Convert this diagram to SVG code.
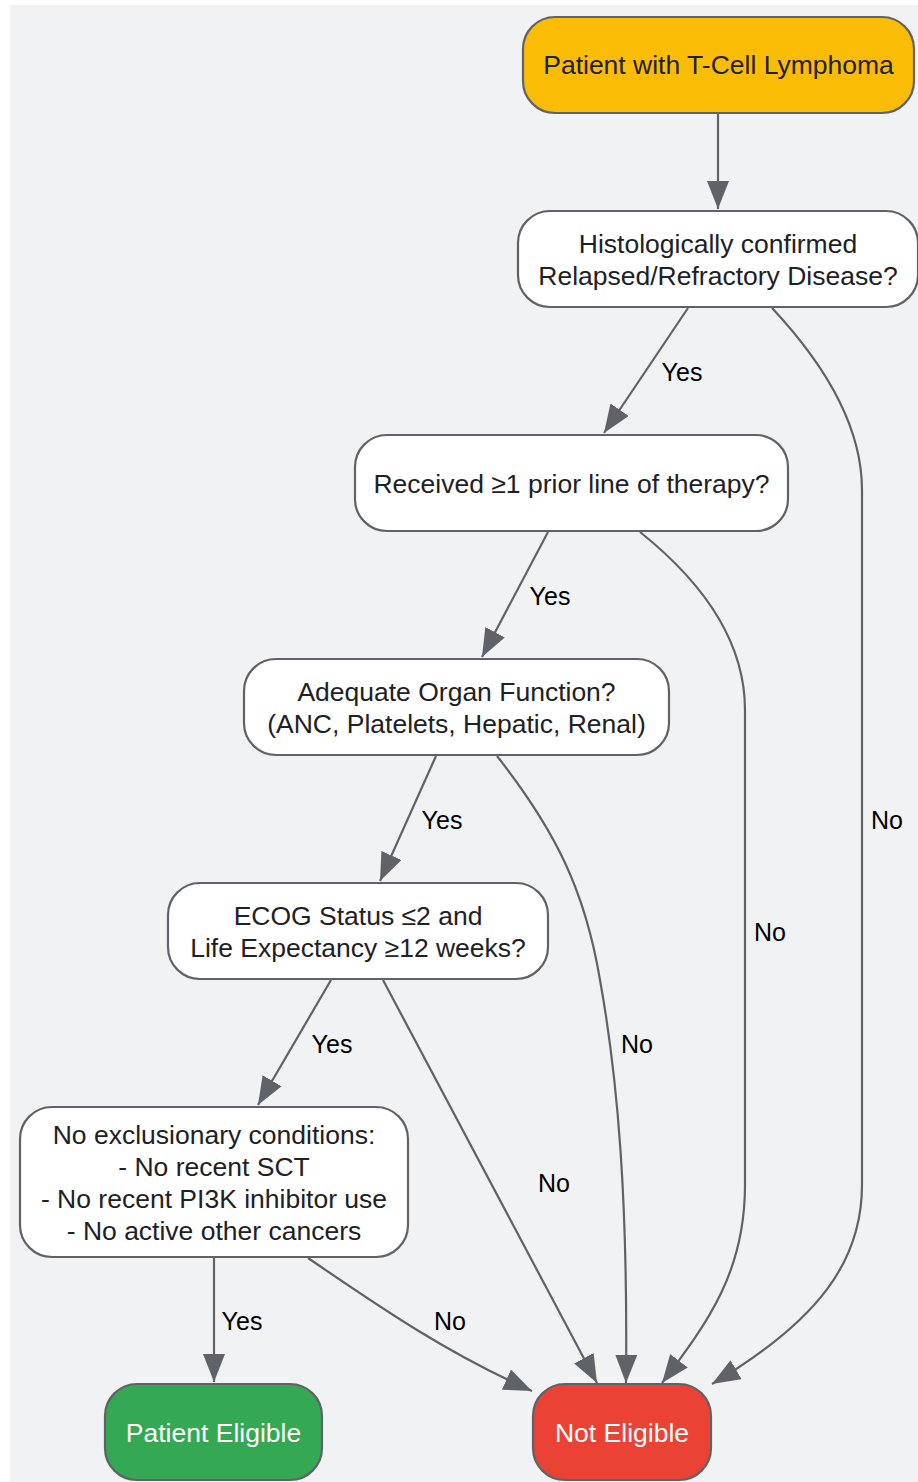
<svg xmlns="http://www.w3.org/2000/svg" width="918" height="1482" viewBox="0 0 918 1482">
<style>
.node rect{stroke:#5f6368;stroke-width:2.2}
.nt{font-family:"Liberation Sans",Arial,sans-serif;font-size:26.5px;fill:#202124;text-anchor:middle}
.wt{fill:#ffffff}
.edge{fill:none;stroke:#5f6368;stroke-width:2.2;marker-end:url(#arr)}
.el{font-family:"Liberation Sans",Arial,sans-serif;font-size:25px;fill:#000000;text-anchor:middle}
</style>
<defs>
<marker id="arr" markerUnits="userSpaceOnUse" markerWidth="30" markerHeight="24" refX="28" refY="11" orient="auto">
<path d="M0,0 L28,11 L0,22 z" fill="#5f6368"/>
</marker>
</defs>
<rect x="10" y="5" width="908" height="1477" fill="#f1f2f4"/>
<g id="connectors">
<path class="edge" d="M718,113 L718,209"/>
<path class="edge" d="M688,308 L604,433"/>
<path class="edge" d="M772,308 C830,370 862,430 862,490 L862,1185 C862,1260 820,1320 712,1384"/>
<path class="edge" d="M548,532 L482,657"/>
<path class="edge" d="M640,532 C700,580 745,640 745,710 L745,1185 C745,1270 710,1320 662,1383"/>
<path class="edge" d="M436,756 L380,881"/>
<path class="edge" d="M497,756 C555,830 585,890 600,980 C618,1080 628,1200 626,1383"/>
<path class="edge" d="M331,980 L258,1105"/>
<path class="edge" d="M383,980 L597,1383"/>
<path class="edge" d="M214,1258 L214,1382"/>
<path class="edge" d="M308,1258 C370,1300 440,1350 532,1391"/>
<text class="el" x="682" y="380.5">Yes</text>
<text class="el" x="550" y="604.5">Yes</text>
<text class="el" x="442" y="828.5">Yes</text>
<text class="el" x="332" y="1052.5">Yes</text>
<text class="el" x="242" y="1329.5">Yes</text>
<text class="el" x="887" y="828.5">No</text>
<text class="el" x="770" y="940.5">No</text>
<text class="el" x="637" y="1052.5">No</text>
<text class="el" x="554" y="1191.5">No</text>
<text class="el" x="450" y="1329.5">No</text>
</g>
<g id="start" class="node">
<rect x="523" y="17" width="391" height="96" rx="32" fill="#fbbc05"/>
<text class="nt" x="718.5" y="74">Patient with T-Cell Lymphoma</text>
</g>
<g id="histology" class="node">
<rect x="518" y="211" width="400" height="96" rx="32" fill="#ffffff"/>
<text class="nt" x="718" y="253">Histologically confirmed</text>
<text class="nt" x="718" y="285">Relapsed/Refractory Disease?</text>
</g>
<g id="priorTherapy" class="node">
<rect x="355" y="435" width="433" height="96" rx="32" fill="#ffffff"/>
<text class="nt" x="571.5" y="493">Received ≥1 prior line of therapy?</text>
</g>
<g id="organ" class="node">
<rect x="244" y="659" width="425" height="96" rx="32" fill="#ffffff"/>
<text class="nt" x="456.5" y="701">Adequate Organ Function?</text>
<text class="nt" x="456.5" y="733">(ANC, Platelets, Hepatic, Renal)</text>
</g>
<g id="ecog" class="node">
<rect x="168" y="883" width="380" height="96" rx="32" fill="#ffffff"/>
<text class="nt" x="358" y="925">ECOG Status ≤2 and</text>
<text class="nt" x="358" y="957">Life Expectancy ≥12 weeks?</text>
</g>
<g id="exclusion" class="node">
<rect x="20" y="1107" width="388" height="150" rx="32" fill="#ffffff"/>
<text class="nt" x="214" y="1144">No exclusionary conditions:</text>
<text class="nt" x="214" y="1176">- No recent SCT</text>
<text class="nt" x="214" y="1208">- No recent PI3K inhibitor use</text>
<text class="nt" x="214" y="1240">- No active other cancers</text>
</g>
<g id="eligible" class="node">
<rect x="105" y="1384" width="217" height="96" rx="32" fill="#34a853"/>
<text class="nt wt" x="213.5" y="1442">Patient Eligible</text>
</g>
<g id="notEligible" class="node">
<rect x="533" y="1384" width="178" height="96" rx="32" fill="#ea4335"/>
<text class="nt wt" x="622" y="1442">Not Eligible</text>
</g>
</svg>
